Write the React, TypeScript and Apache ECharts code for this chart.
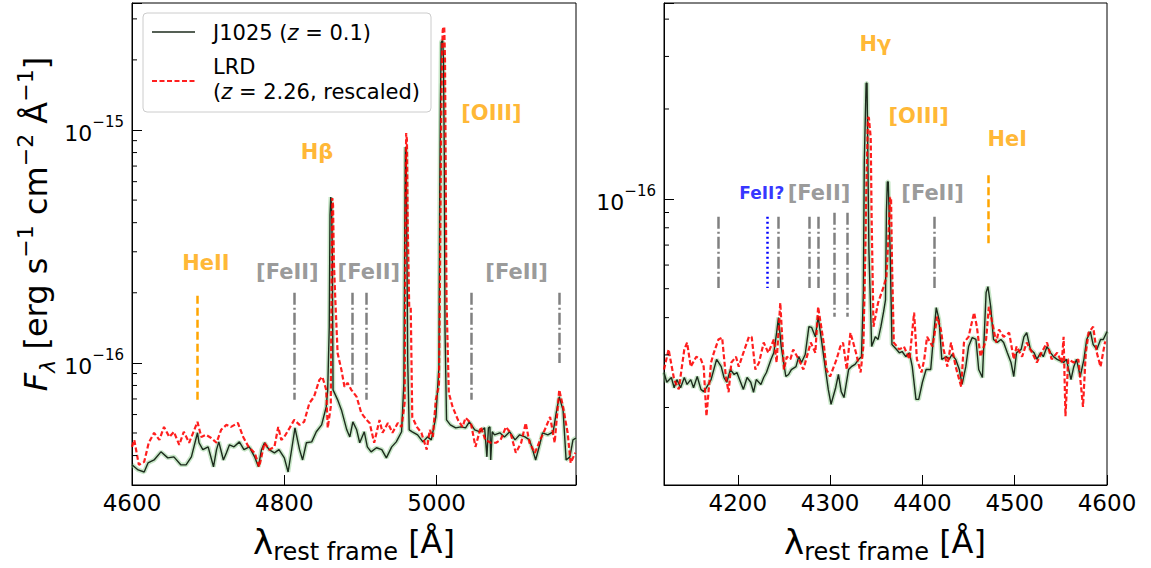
import React, { useEffect, useRef } from 'react';
import * as echarts from 'echarts';

// Flux values are in units of 1e-17 erg s^-1 cm^-2 Å^-1
const LEFT_X_RANGE = [4600, 5183];
const RIGHT_X_RANGE = [4120, 4600];
const LEFT_Y_RANGE = [2.99, 351];
const RIGHT_Y_RANGE = [1.1, 45.3];

const LEFT_MINOR_TICKS = [4, 5, 6, 7, 8, 9, 20, 30, 40, 50, 60, 70, 80, 90, 200, 300];
const RIGHT_MINOR_TICKS = [2, 3, 4, 5, 6, 7, 8, 9, 20, 30, 40];

// J1025 (z=0.1), Hβ–[OIII] window
const J1025_LEFT = [
  [4600, 3.65], [4608, 3.47], [4616, 3.4], [4621, 3.72], [4629, 3.83], [4638, 4.15], [4647, 3.91], [4655, 3.95],
  [4664, 3.65], [4671, 3.65], [4678, 3.95], [4686, 5.01], [4688, 4.54], [4693, 4.24], [4700, 4.36], [4707, 3.58],
  [4711, 4.24], [4714, 4.58], [4720, 3.83], [4724, 4.11], [4728, 4.45], [4734, 4.36], [4741, 4.58], [4747, 4.24],
  [4754, 4.36], [4761, 3.95], [4766, 3.58], [4770, 4.24], [4774, 4.54], [4780, 4.24], [4787, 4.11], [4793, 4.24],
  [4800, 3.91], [4805, 3.4], [4811, 4.54], [4814, 5.26], [4820, 4.24], [4824, 3.83], [4829, 4.54], [4836, 4.58],
  [4842, 5.06], [4849, 5.42], [4855, 6.47], [4857, 7.66], [4859, 14.3], [4860, 43.1], [4861, 51.5], [4862, 47.6],
  [4863, 30.5], [4864, 7.66], [4867, 7.29], [4870, 6.94], [4875, 6.28], [4882, 5.16], [4886, 4.81], [4890, 5.58],
  [4895, 5.16], [4899, 4.54], [4905, 5.06], [4909, 4.36], [4914, 4.15], [4921, 4.32], [4928, 4.24], [4934, 3.91],
  [4941, 4.36], [4947, 4.58], [4954, 5.06], [4957, 8.21], [4958, 30.5], [4959, 84.5], [4960, 82], [4961, 30.5],
  [4962, 10.3], [4964, 5.16], [4968, 5.06], [4975, 4.91], [4982, 4.58], [4988, 4.81], [4993, 4.67], [4999, 5.86],
  [5003, 9.61], [5004, 50.1], [5005, 134.6], [5006, 238], [5007, 241], [5008, 241], [5009, 200], [5010, 82],
  [5011, 13.9], [5013, 5.69], [5018, 5.42], [5025, 5.26], [5032, 5.31], [5038, 5.26], [5043, 5.58], [5050, 5.16],
  [5057, 5.06], [5063, 5.26], [5066, 3.95], [5068, 5.26], [5070, 5.31], [5071, 3.83], [5073, 5.06], [5076, 4.91],
  [5083, 5.01], [5089, 4.81], [5096, 5.06], [5103, 4.67], [5109, 4.91], [5116, 4.81], [5122, 4.67], [5126, 4.24],
  [5130, 3.83], [5136, 4.54], [5139, 5.01], [5146, 4.91], [5153, 5.06], [5157, 6.1], [5161, 7.15], [5166, 6.28],
  [5170, 3.83], [5175, 3.95], [5179, 4.67], [5183, 4.76],
];

// LRD (z=2.26, rescaled), Hβ–[OIII] window
const LRD_LEFT = [
  [4600, 4.36], [4603, 4.67], [4609, 3.65], [4616, 3.76], [4622, 4.54], [4629, 5.01], [4636, 4.67], [4642, 5.31],
  [4649, 4.81], [4655, 5.06], [4662, 4.45], [4668, 5.06], [4675, 4.54], [4686, 5.58], [4691, 4.81], [4697, 4.91],
  [4704, 4.76], [4711, 4.54], [4717, 5.16], [4724, 5.42], [4730, 5.31], [4739, 5.52], [4746, 4.81], [4753, 4.36],
  [4761, 4.11], [4767, 3.58], [4774, 4.54], [4780, 4.24], [4787, 4.36], [4792, 5.31], [4796, 4.67], [4800, 4.81],
  [4807, 5.26], [4813, 5.69], [4820, 5.42], [4826, 5.58], [4833, 6.73], [4839, 7.15], [4846, 8.45], [4850, 8.71],
  [4855, 7.66], [4857, 5.26], [4861, 6.47], [4862, 18.6], [4863, 51.0], [4864, 47.6], [4865, 27.7], [4867, 18.6],
  [4870, 11.0], [4875, 9.33], [4879, 7.89], [4883, 8.21], [4888, 7.66], [4895, 7.15], [4901, 6.1], [4908, 5.69],
  [4912, 5.52], [4918, 4.54], [4925, 5.69], [4929, 5.01], [4936, 5.52], [4942, 5.01], [4949, 5.52], [4954, 5.31],
  [4958, 6.73], [4959, 40], [4960, 97.0], [4961, 90.6], [4962, 40], [4964, 17.4], [4966, 17.4], [4968, 5.86],
  [4974, 5.31], [4980, 5.01], [4987, 4.24], [4991, 5.16], [4995, 4.81], [4999, 6.94], [5003, 8.0], [5004, 15.7],
  [5006, 110], [5007, 200], [5008, 268], [5009, 277], [5010, 277], [5011, 200], [5012, 60], [5013, 18.6],
  [5016, 7.43], [5021, 6.47], [5028, 5.69], [5034, 5.31], [5038, 5.81], [5045, 5.52], [5051, 4.36], [5058, 5.31],
  [5064, 4.67], [5071, 4.54], [5078, 4.54], [5084, 4.67], [5091, 5.31], [5097, 5.01], [5104, 4.11], [5111, 4.54],
  [5117, 5.52], [5122, 4.54], [5129, 4.11], [5136, 4.67], [5142, 5.16], [5149, 5.86], [5155, 4.54], [5161, 7.66],
  [5166, 6.47], [5172, 5.01], [5176, 3.72], [5182, 4.11],
];

// J1025, Hγ window
const J1025_RIGHT = [
  [4120, 2.62], [4123, 2.43], [4128, 2.52], [4131, 2.33], [4134, 2.48], [4138, 2.33], [4142, 2.52], [4145, 2.39],
  [4149, 2.48], [4152, 2.33], [4156, 2.54], [4160, 2.3], [4163, 2.26], [4166, 2.33], [4171, 2.48], [4174, 2.68],
  [4177, 2.9], [4182, 2.74], [4185, 2.52], [4188, 2.43], [4192, 2.68], [4196, 2.58], [4199, 2.62], [4203, 2.43],
  [4206, 2.3], [4210, 2.52], [4214, 2.43], [4217, 2.25], [4220, 2.48], [4225, 2.39], [4228, 2.52], [4231, 2.62],
  [4236, 2.9], [4239, 3.05], [4242, 3.56], [4244, 4.0], [4247, 3.2], [4252, 2.54], [4255, 2.58], [4258, 2.68],
  [4263, 2.74], [4266, 2.96], [4269, 2.83], [4273, 3.01], [4277, 3.73], [4280, 3.71], [4284, 3.45], [4287, 4.03],
  [4291, 3.3], [4295, 2.68], [4298, 2.3], [4301, 2.05], [4306, 2.33], [4309, 2.58], [4312, 2.26], [4315, 2.16],
  [4320, 2.68], [4323, 2.74], [4327, 2.79], [4331, 2.9], [4334, 2.96], [4336, 4.85], [4337, 13.2], [4339, 24.4],
  [4340, 24.4], [4342, 6.75], [4345, 3.2], [4349, 3.45], [4352, 3.38], [4355, 3.73], [4358, 4.2], [4360, 4.59],
  [4361, 9.05], [4362, 11.4], [4363, 11.4], [4365, 6.75], [4367, 3.25], [4372, 3.13], [4375, 3.05], [4378, 3.08],
  [4382, 2.96], [4386, 3.05], [4389, 2.74], [4393, 2.13], [4396, 2.13], [4400, 2.43], [4404, 2.68], [4409, 2.68],
  [4412, 3.45], [4415, 4.32], [4418, 3.94], [4421, 2.9], [4426, 2.96], [4429, 2.9], [4432, 3.01], [4436, 2.9],
  [4440, 2.68], [4443, 2.39], [4447, 2.74], [4450, 3.2], [4454, 3.43], [4458, 3.38], [4461, 2.68], [4465, 2.52],
  [4469, 4.85], [4471, 5.08], [4474, 4.35], [4477, 3.38], [4481, 3.3], [4485, 3.38], [4488, 3.3], [4492, 3.05],
  [4496, 2.83], [4499, 2.54], [4502, 3.05], [4507, 3.13], [4510, 3.45], [4513, 3.56], [4517, 3.13], [4521, 3.05],
  [4524, 2.9], [4528, 3.05], [4531, 2.96], [4535, 3.2], [4539, 3.05], [4542, 2.96], [4546, 2.9], [4550, 2.86],
  [4553, 2.83], [4556, 2.9], [4561, 2.48], [4564, 2.74], [4567, 2.9], [4571, 2.54], [4575, 2.9], [4578, 3.38],
  [4582, 3.59], [4585, 3.25], [4589, 3.13], [4593, 3.38], [4596, 3.38], [4600, 3.59],
];

// LRD, Hγ window
const LRD_RIGHT = [
  [4120, 2.68], [4125, 3.13], [4131, 2.48], [4136, 2.3], [4142, 3.13], [4145, 3.3], [4149, 2.74], [4155, 2.96],
  [4160, 2.9], [4163, 2.74], [4166, 1.87], [4171, 2.83], [4174, 3.05], [4179, 3.38], [4183, 3.43], [4187, 2.54],
  [4190, 2.25], [4193, 2.83], [4198, 2.96], [4201, 2.74], [4206, 3.05], [4212, 3.45], [4215, 3.45], [4219, 2.68],
  [4223, 2.83], [4228, 3.3], [4233, 3.05], [4239, 3.38], [4242, 2.83], [4246, 4.49], [4250, 2.68], [4253, 2.96],
  [4257, 2.9], [4260, 3.13], [4266, 2.9], [4271, 2.68], [4279, 3.3], [4284, 3.05], [4287, 4.35], [4293, 3.3],
  [4296, 2.68], [4300, 2.54], [4304, 2.74], [4307, 2.9], [4311, 3.2], [4314, 3.3], [4318, 2.68], [4322, 3.56],
  [4325, 3.3], [4328, 3.05], [4333, 2.62], [4336, 3.2], [4338, 6.25], [4339, 9.93], [4341, 18.7], [4342, 18.7],
  [4344, 16.0], [4345, 8.51], [4347, 3.73], [4352, 4.49], [4358, 5.08], [4361, 5.48], [4363, 7.3], [4365, 10.1],
  [4366, 10.1], [4367, 6.25], [4369, 3.3], [4375, 3.13], [4380, 3.2], [4386, 2.9], [4391, 4.16], [4394, 2.9],
  [4399, 2.62], [4402, 2.9], [4405, 3.45], [4411, 3.2], [4416, 4.03], [4420, 3.65], [4423, 3.13], [4427, 2.74],
  [4431, 3.3], [4436, 2.74], [4442, 2.35], [4445, 3.3], [4450, 3.45], [4456, 4.16], [4459, 3.73], [4463, 2.96],
  [4469, 3.38], [4472, 4.35], [4475, 3.94], [4480, 3.3], [4483, 3.65], [4488, 3.45], [4494, 3.56], [4499, 2.9],
  [4502, 3.2], [4508, 2.96], [4513, 3.3], [4519, 3.05], [4524, 2.83], [4529, 3.05], [4535, 3.3], [4540, 2.9],
  [4546, 3.05], [4551, 2.83], [4553, 3.45], [4555, 1.87], [4558, 2.9], [4564, 2.83], [4569, 2.9], [4574, 2.01],
  [4577, 3.05], [4580, 3.56], [4585, 3.73], [4589, 3.05], [4593, 2.74], [4598, 3.33],
];

// Line markers: [wavelength, top flux, bottom flux]
const HE_MARKERS_LEFT = [[4686, 19.4, 6.94]];
const FE_MARKERS_LEFT = [[4813, 20.0, 6.94], [4889, 20.0, 7.89], [4907, 20.0, 6.94], [5045, 20.0, 6.94], [5161, 20.0, 10.0]];
const HE_MARKERS_RIGHT = [[4471, 12.0, 7.02]];
const FE_MARKERS_RIGHT = [[4179, 8.71, 5.03], [4244, 8.71, 5.03], [4277, 8.71, 5.03], [4287, 8.71, 5.03], [4305, 8.98, 4.03], [4319, 8.98, 4.03], [4413, 8.71, 5.03]];
const FE_QUERY_MARKERS_RIGHT = [[4232, 8.71, 5.03]];

// Line identifications: text, wavelength, flux, kind
const LEFT_LABELS = [
  ['Hβ', 4843, 80.5, 'em'],
  ['[OIII]', 5072, 118, 'em'],
  ['HeII', 4697, 26.9, 'em'],
  ['[FeII]', 4804, 24.6, 'fe'],
  ['[FeII]', 4911, 24.6, 'fe'],
  ['[FeII]', 5105, 24.6, 'fe'],
];
const RIGHT_LABELS = [
  ['Hγ', 4349, 33.0, 'em'],
  ['[OIII]', 4396, 19.0, 'em'],
  ['HeI', 4492, 15.9, 'em'],
  ['FeII?', 4226, 10.5, 'q'],
  ['[FeII]', 4288, 10.5, 'fe'],
  ['[FeII]', 4411, 10.5, 'fe'],
];

const FONT = 'DejaVu Sans';
const BLACK = '#1c2b1c';
const RED = 'rgba(255,0,0,0.88)';
const GREEN = 'rgba(130,200,130,0.45)';
const ORANGE = '#FFA500';
const GRAY = '#808080';
const BLUE = '#0000FF';

const powLabel = (v: number) => {
  const e = Math.log10(v);
  if (Math.abs(e - Math.round(e)) > 1e-6) return '';
  return `{b|10}{s|\u2212${17 - Math.round(e)}}`;
};

const yLabelRich = {
  b: { fontSize: 22, fontFamily: FONT, color: '#000', lineHeight: 30, verticalAlign: 'bottom' },
  s: { fontSize: 15, fontFamily: FONT, color: '#000', lineHeight: 30, verticalAlign: 'top' },
};

function xAxis(gridIndex: number, range: number[], splitNumber: number) {
  return {
    type: 'value', gridIndex, min: range[0], max: range[1], splitNumber,
    axisLine: { show: true, lineStyle: { color: '#000', width: 1 } },
    axisTick: { show: true, inside: true, length: 10, lineStyle: { color: '#000', width: 1 } },
    axisLabel: {
      formatter: (v: number) => (v % 100 === 0 ? String(v) : ''),
      fontSize: 23, color: '#000', fontFamily: FONT, margin: 6,
    },
    splitLine: { show: false },
  };
}

function yAxis(gridIndex: number, range: number[]) {
  return {
    type: 'log', logBase: 10, gridIndex, min: range[0], max: range[1],
    axisLine: { show: true, lineStyle: { color: '#000', width: 1 } },
    axisTick: { show: true, inside: true, length: 10, lineStyle: { color: '#000', width: 1 } },
    axisLabel: { formatter: powLabel, rich: yLabelRich, margin: 8 },
    splitLine: { show: false },
    minorTick: { show: false },
  };
}

function minorTicks(idx: number, xmin: number, values: number[]) {
  return {
    type: 'custom', xAxisIndex: idx, yAxisIndex: idx, silent: true, z: 6,
    data: values.map((v) => [xmin, v]),
    renderItem: (params: any, api: any) => {
      const p = api.coord([api.value(0), api.value(1)]);
      return {
        type: 'line',
        shape: { x1: p[0], y1: p[1], x2: p[0] + 5, y2: p[1] },
        style: { stroke: '#000', lineWidth: 1 },
      };
    },
  };
}

function spectrum(idx: number, black: number[][], red: number[][]) {
  return [
    {
      type: 'line', xAxisIndex: idx, yAxisIndex: idx, data: black, symbol: 'none',
      lineStyle: { color: GREEN, width: 4.5 }, silent: true, z: 2,
    },
    {
      type: 'line', xAxisIndex: idx, yAxisIndex: idx, data: black, symbol: 'none',
      lineStyle: { color: BLACK, width: 1.4 }, silent: true, z: 3,
    },
    {
      type: 'line', xAxisIndex: idx, yAxisIndex: idx, data: red, symbol: 'none',
      lineStyle: { color: RED, width: 2.2, type: [5, 2.5] }, silent: true, z: 4,
    },
  ];
}

function markers(idx: number, list: number[][], color: string, dash: number[]) {
  return {
    type: 'lines', coordinateSystem: 'cartesian2d', xAxisIndex: idx, yAxisIndex: idx, silent: true, z: 1,
    data: list.map(([x, y1, y0]) => ({ coords: [[x, y1], [x, y0]] })),
    lineStyle: { color, width: 2.5, type: dash, opacity: 1 },
  };
}

function labels(idx: number, list: any[]) {
  const style: any = {
    em: { color: ORANGE, fontSize: 21 },
    fe: { color: GRAY, fontSize: 21 },
    q: { color: BLUE, fontSize: 17 },
  };
  return {
    type: 'scatter', xAxisIndex: idx, yAxisIndex: idx, silent: true, z: 7,
    symbolSize: 1, itemStyle: { color: 'rgba(0,0,0,0)' },
    data: list.map(([text, x, y, kind]) => ({
      value: [x, y],
      label: {
        show: true, position: 'inside', formatter: text, fontFamily: FONT, fontWeight: 'bold',
        ...style[kind],
      },
    })),
  };
}

export default function App() {
  const ref = useRef<HTMLDivElement>(null);
  useEffect(() => {
    if (!ref.current) return;
    const chart = echarts.init(ref.current, null, { renderer: 'svg' });
    const legendRich = {
      n: { fontSize: 21, fontFamily: FONT, color: '#000' },
      i: { fontSize: 21, fontFamily: FONT, color: '#000', fontStyle: 'italic' },
    };
    chart.setOption({
      animation: false,
      backgroundColor: '#fff',
      grid: [
        { left: 132, top: 3, width: 444, height: 482, show: true, borderColor: '#000', borderWidth: 1 },
        { left: 664, top: 3, width: 443, height: 482, show: true, borderColor: '#000', borderWidth: 1 },
      ],
      xAxis: [xAxis(0, LEFT_X_RANGE, 3), xAxis(1, RIGHT_X_RANGE, 5)],
      yAxis: [yAxis(0, LEFT_Y_RANGE), yAxis(1, RIGHT_Y_RANGE)],
      series: [
        markers(0, HE_MARKERS_LEFT, ORANGE, [8, 4]),
        markers(0, FE_MARKERS_LEFT, GRAY, [12, 3, 2, 3]),
        markers(1, HE_MARKERS_RIGHT, ORANGE, [8, 4]),
        markers(1, FE_MARKERS_RIGHT, GRAY, [12, 3, 2, 3]),
        markers(1, FE_QUERY_MARKERS_RIGHT, BLUE, [2, 3]),
        ...spectrum(0, J1025_LEFT, LRD_LEFT),
        ...spectrum(1, J1025_RIGHT, LRD_RIGHT),
        minorTicks(0, LEFT_X_RANGE[0], LEFT_MINOR_TICKS),
        minorTicks(1, RIGHT_X_RANGE[0], RIGHT_MINOR_TICKS),
        labels(0, LEFT_LABELS),
        labels(1, RIGHT_LABELS),
      ],
      graphic: [
        {
          type: 'rect', z: 100, shape: { x: 143, y: 13, width: 288, height: 99, r: 4 },
          style: { fill: 'rgba(255,255,255,0.8)', stroke: '#cccccc', lineWidth: 1 },
        },
        { type: 'line', z: 101, shape: { x1: 152, y1: 32, x2: 195, y2: 32 }, style: { stroke: BLACK, lineWidth: 1.4 } },
        {
          type: 'text', z: 101, x: 213, y: 33,
          style: { text: '{n|J1025 (}{i|z}{n| = 0.1)}', rich: legendRich, verticalAlign: 'middle', align: 'left' },
        },
        { type: 'line', z: 101, shape: { x1: 152, y1: 81, x2: 195, y2: 81 }, style: { stroke: RED, lineWidth: 2.2, lineDash: [5, 2.5] } },
        {
          type: 'text', z: 101, x: 213, y: 67,
          style: { text: '{n|LRD}', rich: legendRich, verticalAlign: 'middle', align: 'left' },
        },
        {
          type: 'text', z: 101, x: 213, y: 92,
          style: { text: '{n|(}{i|z}{n| = 2.26, rescaled)}', rich: legendRich, verticalAlign: 'middle', align: 'left' },
        },
        {
          type: 'text', z: 101, x: 36, y: 224, rotation: Math.PI / 2,
          style: {
            text: '{f|F}{sub|λ}{n| [erg s}{sup|\u22121}{n| cm}{sup|\u22122}{n| Å}{sup|\u22121}{n|]}',
            align: 'center', verticalAlign: 'middle',
            rich: {
              f: { fontSize: 32, fontFamily: FONT, fontStyle: 'italic', color: '#000', lineHeight: 44, verticalAlign: 'middle' },
              n: { fontSize: 32, fontFamily: FONT, color: '#000', lineHeight: 44, verticalAlign: 'middle' },
              sub: { fontSize: 22, fontFamily: FONT, fontStyle: 'italic', color: '#000', lineHeight: 44, verticalAlign: 'bottom' },
              sup: { fontSize: 22, fontFamily: FONT, color: '#000', lineHeight: 44, verticalAlign: 'top' },
            },
          },
        },
        ...[354, 885].map((cx) => ({
          type: 'text', z: 101, x: cx, y: 542,
          style: {
            text: '{l|λ}{sub|rest frame}{n| [Å]}',
            align: 'center', verticalAlign: 'middle',
            rich: {
              l: { fontSize: 34, fontFamily: FONT, color: '#000', lineHeight: 44, verticalAlign: 'middle' },
              n: { fontSize: 32, fontFamily: FONT, color: '#000', lineHeight: 44, verticalAlign: 'middle' },
              sub: { fontSize: 24, fontFamily: FONT, color: '#000', lineHeight: 44, verticalAlign: 'bottom' },
            },
          },
        })),
      ],
    });
    return () => chart.dispose();
  }, []);
  return (
    <div
      ref={ref}
      style={{ position: 'fixed', left: 0, top: 0, width: 1151, height: 568, background: '#fff' }}
    />
  );
}
